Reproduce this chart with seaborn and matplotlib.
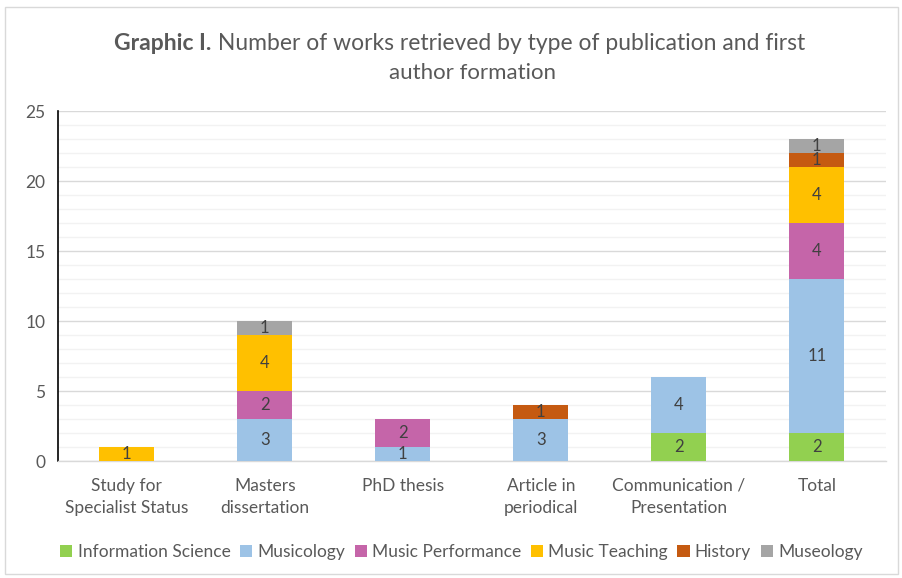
import numpy as np
import pandas as pd
import seaborn as sns
import matplotlib.pyplot as plt
from matplotlib.patches import Rectangle, Patch
from matplotlib.ticker import MultipleLocator

# Data
categories = ["Study for\nSpecialist Status", "Masters\ndissertation", "PhD thesis",
              "Article in\nperiodical", "Communication /\nPresentation", "Total"]
series = ["Information Science", "Musicology", "Music Performance",
          "Music Teaching", "History", "Museology"]
info_science = [0, 0, 0, 0, 2, 2]
musicology = [0, 3, 1, 3, 4, 11]
music_performance = [0, 2, 2, 0, 0, 4]
music_teaching = [1, 4, 0, 0, 0, 4]
history = [0, 0, 0, 1, 0, 1]
museology = [0, 1, 0, 0, 0, 1]
colors = ["#92D050", "#9DC3E6", "#C565A9", "#FFC000", "#C55A11", "#A5A5A5"]

values = [info_science, musicology, music_performance, music_teaching, history, museology]
df = pd.DataFrame(values, index=series, columns=categories).T
cum = df.cumsum(axis=1)

sns.set_style("white")
plt.rcParams['font.family'] = ['Lato', 'DejaVu Sans']
text_color = "#595959"

fig = plt.figure(figsize=(9.03, 5.78), dpi=100)
ax = fig.add_axes([0.064, 0.2024, 0.917, 0.6055])

# stacked bars: draw cumulative totals from top layer down
for s, c in zip(reversed(series), reversed(colors)):
    sns.barplot(x=categories, y=cum[s].values, color=c, width=0.4,
                linewidth=0, saturation=1, ax=ax, zorder=3)

# value labels centred in each segment
for i, cat in enumerate(categories):
    for s in series:
        v = df.loc[cat, s]
        if v > 0:
            ax.text(i, cum.loc[cat, s] - v / 2, str(v), ha="center", va="center",
                    fontsize=12, color="#404040", zorder=4)

ax.set_ylim(0, 25)
ax.set_xlim(-0.5, len(categories) - 0.5)
ax.yaxis.set_major_locator(MultipleLocator(5))
ax.yaxis.set_minor_locator(MultipleLocator(1))
ax.grid(which="major", axis="y", color="#D9D9D9", linewidth=1, zorder=0)
ax.grid(which="minor", axis="y", color="#F2F2F2", linewidth=1, zorder=0)
ax.set_axisbelow(True)

for sp in ["top", "right"]:
    ax.spines[sp].set_visible(False)
ax.spines["left"].set_color("black")
ax.spines["left"].set_linewidth(1.2)
ax.spines["bottom"].set_color("#D9D9D9")
ax.spines["bottom"].set_linewidth(1)

ax.tick_params(axis="y", which="major", length=5, width=1.2, color="black",
               labelsize=12.5, labelcolor=text_color, pad=4)
ax.tick_params(axis="y", which="minor", length=0)
ax.set_xticks(range(len(categories)))
ax.set_xticklabels(categories, fontsize=12.5, color=text_color, linespacing=1.5)
ax.tick_params(axis="x", which="major", length=0, pad=12)
ax.set_xticks(np.arange(-0.5, len(categories), 1.0), minor=True)
ax.tick_params(axis="x", which="minor", length=6, color="#D9D9D9", width=1)
ax.set_xlabel("")
ax.set_ylabel("")

# legend
handles = [Patch(facecolor=c, edgecolor="none") for c in colors]
fig.legend(handles, series, loc="center", bbox_to_anchor=(0.511, 0.045), ncol=6,
           frameon=False, fontsize=12.5, handlelength=0.7, handleheight=0.7,
           handletextpad=0.3, columnspacing=0.55, labelcolor=text_color)

# title with bold prefix
renderer = fig.canvas.get_renderer()
t1 = fig.text(0, 0.925, "Graphic I.", fontsize=16.5, fontweight="bold",
              color=text_color, ha="left", va="center")
t2 = fig.text(0, 0.925, " Number of works retrieved by type of publication and first",
              fontsize=16.5, color=text_color, ha="left", va="center")
w1 = t1.get_window_extent(renderer).width / fig.bbox.width
w2 = t2.get_window_extent(renderer).width / fig.bbox.width
x0 = 0.509 - (w1 + w2) / 2
t1.set_x(x0)
t2.set_x(x0 + w1)
fig.text(0.523, 0.873, "author formation", fontsize=16, color=text_color,
         ha="center", va="center")

# chart border
fig.patches.append(Rectangle((0.006, 0.007), 0.988, 0.981, transform=fig.transFigure,
                             fill=False, edgecolor="#D9D9D9", linewidth=1))

fig.savefig("out.png", dpi=100)
